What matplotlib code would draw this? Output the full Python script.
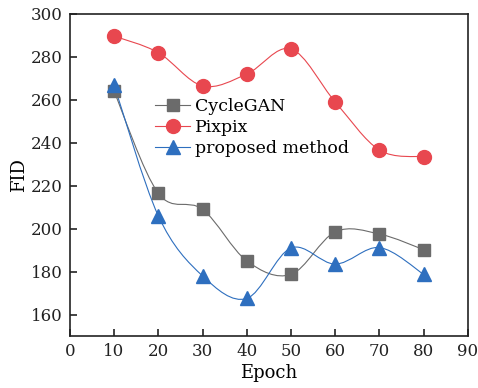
import numpy as np
import matplotlib
matplotlib.use('Agg')
import matplotlib.pyplot as plt
from matplotlib.path import Path
from matplotlib.patches import PathPatch
from matplotlib.lines import Line2D

epochs = [10, 20, 30, 40, 50, 60, 70, 80]
cyclegan = [264, 216.5, 209, 185, 178.7, 198.5, 197.5, 190.2]
pixpix = [289.7, 282, 266.5, 272, 283.7, 259, 236.6, 233.5]
proposed = [267, 206, 178, 167.5, 191, 183.5, 191.2, 178.7]
labels = ['CycleGAN', 'Pixpix', 'proposed method']

plt.rcParams['font.family'] = ['DejaVu Serif']
plt.rcParams['font.size'] = 12


def smooth_path(x, y):
  # catmull-rom through the points, drawn as cubic beziers
  x = np.asarray(x, float)
  y = np.asarray(y, float)
  verts = [(x[0], y[0])]
  codes = [Path.MOVETO]
  n = len(x)
  for i in range(n - 1):
    x0, y0 = (x[i - 1], y[i - 1]) if i > 0 else (x[i], y[i])
    x3, y3 = (x[i + 2], y[i + 2]) if i + 2 < n else (x[i + 1], y[i + 1])
    c1 = (x[i] + (x[i + 1] - x0) / 6, y[i] + (y[i + 1] - y0) / 6)
    c2 = (x[i + 1] - (x3 - x[i]) / 6, y[i + 1] - (y3 - y[i]) / 6)
    verts += [c1, c2, (x[i + 1], y[i + 1])]
    codes += [Path.CURVE4] * 3
  return Path(verts, codes)


fig = plt.figure(figsize=(4.78, 3.88), dpi=100)
ax = fig.add_axes([0.146, 0.134, 0.833, 0.830])

series = [
  (cyclegan, '#6b6b6b', 's', 8),
  (pixpix, '#e8474f', 'o', 10),
  (proposed, '#2e6fbf', '^', 10),
]
handles = []
for (vals, color, mk, ms), lab in zip(series, labels):
  ax.add_patch(PathPatch(smooth_path(epochs, vals), fill=False,
                         edgecolor=color, lw=0.8, zorder=2))
  ax.plot(epochs, vals, linestyle='none', marker=mk, ms=ms,
          color=color, mec=color, zorder=3)
  handles.append(Line2D([], [], color=color, lw=0.8, marker=mk, ms=ms))

ax.set_xlim(0, 90)
ax.set_ylim(150, 300)
ax.set_xticks(range(0, 91, 10))
ax.set_yticks(range(160, 301, 20))
ax.tick_params(direction='in', length=5, width=1.2, top=False, right=False,
               labelsize=12, colors='#222222', pad=5)
for s in ax.spines.values():
  s.set_linewidth(1.2)
  s.set_color('#222222')
ax.set_xlabel('Epoch', fontsize=13, labelpad=3)
ax.set_ylabel('FID', fontsize=13, labelpad=2)

ax.legend(handles, labels, loc='upper left', bbox_to_anchor=(0.215, 0.74),
          frameon=False, fontsize=12.5, handlelength=2.0, handletextpad=0.3,
          labelspacing=0.25, borderpad=0, borderaxespad=0)

fig.savefig('out.png', dpi=100)
